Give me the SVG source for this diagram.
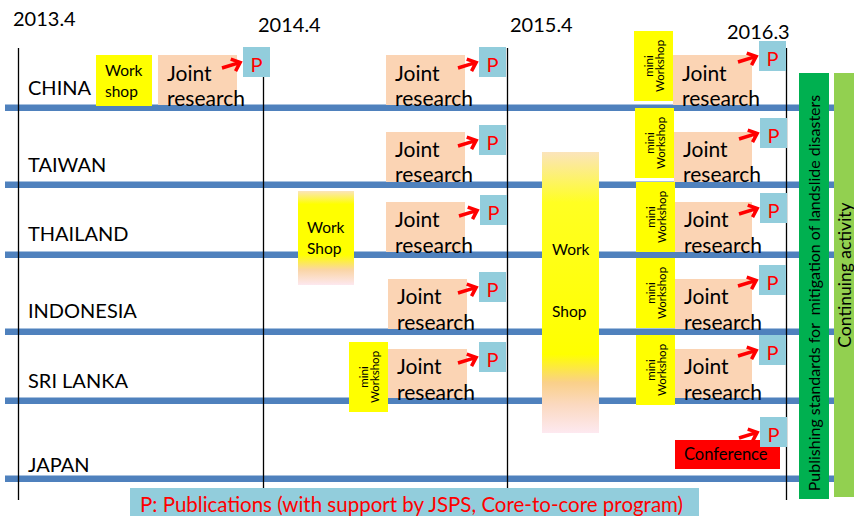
<svg xmlns="http://www.w3.org/2000/svg" width="854" height="516" viewBox="0 0 854 516">
<style>
text{font-family:Lato,"Liberation Sans",sans-serif;fill:#000}
.yr{font-size:20px}
.cty{font-size:20px}
.jr{fill:#FBD4B4}
.jt{font-size:21px}
.pb{fill:#92CDDC}
.pt{font-size:20px;fill:#FF0000;text-anchor:middle}
.ws{fill:#FFFF00}
.wt{font-size:15.5px}
.mt{font-size:11.5px;text-anchor:middle}
.band{fill:#4F81BD}
.vl{stroke:#000;stroke-width:1.3}
.arr{fill:none;stroke:#FF0000;stroke-width:3.5;stroke-linejoin:miter}
</style>
<defs>
<path id="ah" d="M0,0 L19,0 M11,-6 L19,0 L12,7"/>
<linearGradient id="g1" x1="0" y1="0" x2="0" y2="1">
<stop offset="0" stop-color="#FBE4BC"/>
<stop offset="0.14" stop-color="#FFFF00"/>
<stop offset="0.68" stop-color="#FFFF00"/>
<stop offset="0.84" stop-color="#FAD5A6"/>
<stop offset="1" stop-color="#FDE8EF"/>
</linearGradient>
<linearGradient id="g2" x1="0" y1="0" x2="0" y2="1">
<stop offset="0" stop-color="#FBE4BC"/>
<stop offset="0.18" stop-color="#FFFF22"/>
<stop offset="0.72" stop-color="#FFFF00"/>
<stop offset="0.82" stop-color="#FAD089"/>
<stop offset="0.9" stop-color="#FBD9C0"/>
<stop offset="1" stop-color="#FDE9F0"/>
</linearGradient>
</defs>

<g id="timeline">
<text class="yr" x="13" y="26">2013.4</text>
<text class="yr" x="258" y="32">2014.4</text>
<text class="yr" x="510" y="32">2015.4</text>
<text class="yr" x="727" y="39">2016.3</text>
<rect class="band" x="5" y="104.5" width="830" height="6.5"/>
<rect class="band" x="5" y="181.5" width="830" height="6.5"/>
<rect class="band" x="5" y="251.5" width="830" height="6.5"/>
<rect class="band" x="5" y="328.5" width="830" height="6.5"/>
<rect class="band" x="5" y="397.5" width="830" height="6.5"/>
<rect class="band" x="5" y="475.5" width="830" height="6.5"/>
<line class="vl" x1="18.5" y1="48" x2="18.5" y2="500"/>
<line class="vl" x1="263.5" y1="48" x2="263.5" y2="500"/>
<line class="vl" x1="507.5" y1="48" x2="507.5" y2="500"/>
<line class="vl" x1="786.5" y1="48" x2="786.5" y2="500"/>
<text class="cty" x="28" y="95">CHINA</text>
<text class="cty" x="28" y="172">TAIWAN</text>
<text class="cty" x="28" y="241">THAILAND</text>
<text class="cty" x="28" y="318">INDONESIA</text>
<text class="cty" x="28" y="388">SRI LANKA</text>
<text class="cty" x="28" y="472">JAPAN</text>
</g>

<g id="ws-china">
<rect class="ws" x="96" y="55" width="56" height="51"/>
<text class="wt" x="105" y="76">Work</text>
<text class="wt" x="105" y="97">shop</text>
</g>
<g id="ws-thailand">
<rect x="298" y="191" width="56" height="94" fill="url(#g1)"/>
<text class="wt" x="307" y="233">Work</text>
<text class="wt" x="307" y="254">Shop</text>
</g>
<g id="ws-main">
<rect x="542" y="152" width="57" height="281" fill="url(#g2)"/>
<text class="wt" x="552" y="255">Work</text>
<text class="wt" x="552" y="317">Shop</text>
</g>

<g id="mini-srilanka-2015">
<rect class="ws" x="349" y="342" width="39" height="70"/>
<g transform="translate(368.5,377) rotate(-90)"><text class="mt" y="-1">mini</text><text class="mt" y="10">Workshop</text></g>
</g>
<g id="mini-china">
<rect class="ws" x="634" y="31" width="39" height="70"/>
<g transform="translate(653.5,66) rotate(-90)"><text class="mt" y="-1">mini</text><text class="mt" y="10">Workshop</text></g>
</g>
<g id="mini-taiwan">
<rect class="ws" x="635" y="108" width="39" height="70"/>
<g transform="translate(654.5,143) rotate(-90)"><text class="mt" y="-1">mini</text><text class="mt" y="10">Workshop</text></g>
</g>
<g id="mini-thailand">
<rect class="ws" x="636" y="182" width="39" height="70"/>
<g transform="translate(655.5,217) rotate(-90)"><text class="mt" y="-1">mini</text><text class="mt" y="10">Workshop</text></g>
</g>
<g id="mini-indonesia">
<rect class="ws" x="636" y="258" width="39" height="70"/>
<g transform="translate(655.5,293) rotate(-90)"><text class="mt" y="-1">mini</text><text class="mt" y="10">Workshop</text></g>
</g>
<g id="mini-srilanka">
<rect class="ws" x="636" y="335" width="39" height="70"/>
<g transform="translate(655.5,370) rotate(-90)"><text class="mt" y="-1">mini</text><text class="mt" y="10">Workshop</text></g>
</g>

<g id="jr-china-1"><rect class="jr" x="158" y="55" width="79" height="50"/><text class="jt" x="167" y="81">Joint</text><text class="jt" x="167" y="106">research</text></g>
<g id="jr-china-2"><rect class="jr" x="386" y="55" width="79" height="50"/><text class="jt" x="395" y="81">Joint</text><text class="jt" x="395" y="106">research</text></g>
<g id="jr-china-3"><rect class="jr" x="673" y="55" width="79" height="50"/><text class="jt" x="682" y="81">Joint</text><text class="jt" x="682" y="106">research</text></g>
<g id="jr-taiwan-1"><rect class="jr" x="386" y="132" width="79" height="50"/><text class="jt" x="395" y="157">Joint</text><text class="jt" x="395" y="182">research</text></g>
<g id="jr-taiwan-2"><rect class="jr" x="674" y="132" width="78" height="50"/><text class="jt" x="683" y="157">Joint</text><text class="jt" x="683" y="182">research</text></g>
<g id="jr-thailand-1"><rect class="jr" x="386" y="202" width="79" height="50"/><text class="jt" x="395" y="227">Joint</text><text class="jt" x="395" y="253">research</text></g>
<g id="jr-thailand-2"><rect class="jr" x="675" y="202" width="77" height="50"/><text class="jt" x="684" y="227">Joint</text><text class="jt" x="684" y="253">research</text></g>
<g id="jr-indonesia-1"><rect class="jr" x="388" y="279" width="79" height="50"/><text class="jt" x="397" y="304">Joint</text><text class="jt" x="397" y="330">research</text></g>
<g id="jr-indonesia-2"><rect class="jr" x="675" y="279" width="77" height="50"/><text class="jt" x="684" y="304">Joint</text><text class="jt" x="684" y="330">research</text></g>
<g id="jr-srilanka-1"><rect class="jr" x="388" y="349" width="79" height="49"/><text class="jt" x="397" y="374">Joint</text><text class="jt" x="397" y="400">research</text></g>
<g id="jr-srilanka-2"><rect class="jr" x="675" y="349" width="77" height="49"/><text class="jt" x="684" y="374">Joint</text><text class="jt" x="684" y="400">research</text></g>

<g id="conference"><rect x="675" y="440" width="105" height="29" fill="#FF0000"/><text x="684" y="460" style="font-size:16.5px">Conference</text></g>

<g id="p-china-1"><rect class="pb" x="243" y="47" width="27" height="30"/><text class="pt" x="256.5" y="72">P</text></g>
<g id="p-china-2"><rect class="pb" x="479" y="47" width="27" height="30"/><text class="pt" x="492.5" y="72">P</text></g>
<g id="p-china-3"><rect class="pb" x="759" y="41" width="27" height="30"/><text class="pt" x="772.5" y="66">P</text></g>
<g id="p-taiwan-1"><rect class="pb" x="479" y="125" width="27" height="30"/><text class="pt" x="492.5" y="150">P</text></g>
<g id="p-taiwan-2"><rect class="pb" x="760" y="118" width="27" height="30"/><text class="pt" x="773.5" y="143">P</text></g>
<g id="p-thailand-1"><rect class="pb" x="480" y="195" width="27" height="30"/><text class="pt" x="493.5" y="220">P</text></g>
<g id="p-thailand-2"><rect class="pb" x="760" y="193" width="27" height="30"/><text class="pt" x="773.5" y="218">P</text></g>
<g id="p-indonesia-1"><rect class="pb" x="479" y="272" width="27" height="30"/><text class="pt" x="492.5" y="297">P</text></g>
<g id="p-indonesia-2"><rect class="pb" x="759" y="265" width="27" height="30"/><text class="pt" x="772.5" y="290">P</text></g>
<g id="p-srilanka-1"><rect class="pb" x="479" y="342" width="27" height="30"/><text class="pt" x="492.5" y="367">P</text></g>
<g id="p-srilanka-2"><rect class="pb" x="759" y="335" width="27" height="30"/><text class="pt" x="772.5" y="360">P</text></g>
<g id="p-japan"><rect class="pb" x="760" y="417" width="27" height="30"/><text class="pt" x="773.5" y="442">P</text></g>

<g id="connectors" class="arr">
<use href="#ah" transform="translate(222,68) rotate(-17)"/>
<use href="#ah" transform="translate(458,68) rotate(-17)"/>
<use href="#ah" transform="translate(738,62) rotate(-17)"/>
<use href="#ah" transform="translate(458,146) rotate(-17)"/>
<use href="#ah" transform="translate(739,139) rotate(-17)"/>
<use href="#ah" transform="translate(459,216) rotate(-17)"/>
<use href="#ah" transform="translate(739,214) rotate(-17)"/>
<use href="#ah" transform="translate(458,293) rotate(-17)"/>
<use href="#ah" transform="translate(738,286) rotate(-17)"/>
<use href="#ah" transform="translate(458,363) rotate(-17)"/>
<use href="#ah" transform="translate(738,356) rotate(-17)"/>
<use href="#ah" transform="translate(739,438) rotate(-17)"/>
</g>

<g id="standards">
<rect x="799" y="73" width="30" height="426" fill="#00B050"/>
<text transform="translate(820,293) rotate(-90)" text-anchor="middle" style="font-size:16px">Publishing standards for&#160; mitigation of landslide disasters</text>
</g>
<g id="continuing">
<rect x="834" y="73" width="26" height="424" fill="#92D050"/>
<text transform="translate(851,275) rotate(-90)" text-anchor="middle" style="font-size:17.5px">Continuing activity</text>
</g>

<g id="legend">
<rect x="130" y="488" width="569" height="30" fill="#92CDDC"/>
<text x="140" y="512" style="font-size:20.5px;fill:#FF0000">P: Publications (with support by JSPS, Core-to-core program)</text>
</g>
</svg>
